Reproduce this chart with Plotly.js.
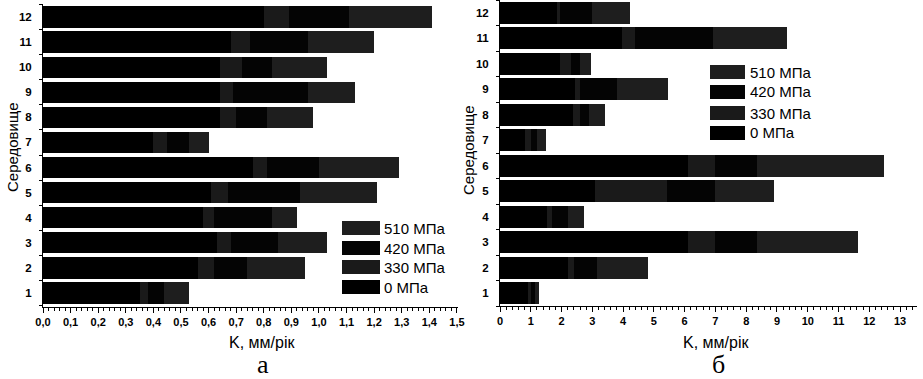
<!DOCTYPE html>
<html>
<head>
<meta charset="utf-8">
<script src="https://cdn.plot.ly/plotly-3.0.1.min.js"></script>
<style>html,body{margin:0;padding:0;background:#fff;}#chart{width:923px;height:379px;}</style>
</head>
<body>
<div id="chart"></div>
<script>
// ---- data ----
const media = [1,2,3,4,5,6,7,8,9,10,11,12];
const mediaLabels = ["1","2","3","4","5","6","7","8","9","10","11","12"];
const seriesNames = ["0 МПа","330 МПа","420 МПа","510 МПа"];
// panel а: K, mm/year (segment widths of stacked bars)
const a_0   = [0.35,0.56,0.63,0.58,0.61,0.76,0.40,0.64,0.64,0.64,0.68,0.80];
const a_330 = [0.03,0.06,0.05,0.04,0.06,0.05,0.05,0.06,0.05,0.08,0.07,0.09];
const a_420 = [0.06,0.12,0.17,0.21,0.26,0.19,0.08,0.11,0.27,0.11,0.21,0.22];
const a_510 = [0.09,0.21,0.18,0.09,0.28,0.29,0.07,0.17,0.17,0.20,0.24,0.30];
// panel б
const b_0   = [0.90,2.20,6.10,1.52,3.09,6.10,0.80,2.37,2.44,1.95,3.96,1.85];
const b_330 = [0.10,0.20,0.90,0.18,2.34,0.90,0.20,0.23,0.16,0.35,0.44,0.10];
const b_420 = [0.14,0.75,1.35,0.50,1.56,1.35,0.20,0.30,1.20,0.30,2.52,1.04];
const b_510 = [0.13,1.65,3.29,0.53,1.91,4.13,0.29,0.51,1.66,0.36,2.41,1.23];
const xTitle = "K, мм/рік";
const yTitle = "Середовище";
const panelLabels = ["а","б"];

// ---- styling ----
const colors = ["#000000","#1a1a1a","#040404","#1e1e1e"];
const W = 923, H = 379;
const px = x => x / W;
const py = y => 1 - y / H;
const FONT = "Liberation Sans, Arial, sans-serif";

const aSeries = [a_0,a_330,a_420,a_510];
const bSeries = [b_0,b_330,b_420,b_510];
const traces = [];
aSeries.forEach((vals,i) => traces.push({
  type:"bar", orientation:"h", x: vals, y: media, name: seriesNames[i],
  xaxis:"x", yaxis:"y", marker:{color:colors[i], line:{width:0}}, showlegend:false
}));
bSeries.forEach((vals,i) => traces.push({
  type:"bar", orientation:"h", x: vals, y: media, name: seriesNames[i],
  xaxis:"x2", yaxis:"y2", marker:{color:colors[i], line:{width:0}}, showlegend:false
}));

const tickFont = {family:FONT, size:11, color:"#000", weight:"bold"};
function xaxis(domain, range, dtick, minorD, fmt){
  return {domain, range, dtick, tick0:0, tickformat:fmt, showgrid:false, zeroline:false,
    showline:true, linecolor:"#000", linewidth:1, ticks:"outside", ticklen:5, tickwidth:1,
    tickcolor:"#000", tickfont:tickFont, fixedrange:true,
    minor:{dtick:minorD, tick0:0, ticks:"outside", ticklen:3, tickwidth:1, tickcolor:"#000", showgrid:false}};
}
function yaxis(domain, range){
  return {domain, range, tickvals:media, ticktext:mediaLabels, showgrid:false, zeroline:false,
    showline:true, linecolor:"#000", linewidth:1, ticks:"outside", ticklen:0, tickcolor:"#000",
    ticklabelstandoff:8, tickfont:{family:FONT, size:11.5, color:"#000", weight:"bold"}, fixedrange:true,
    minor:{tick0:0.5, dtick:1, ticks:"outside", ticklen:3, tickwidth:1, tickcolor:"#000", showgrid:false}};
}

const shapes = [], annotations = [];
function legend(x0, swW, textX, rows){
  // rows from top: 510, 420, 330, 0
  const order = [3,2,1,0];
  order.forEach((si,k) => {
    const yc = rows[k];
    shapes.push({type:"rect", xref:"paper", yref:"paper", x0:px(x0), x1:px(x0+swW),
      y0:py(yc+7), y1:py(yc-7), fillcolor:colors[si], line:{width:0}});
    annotations.push({xref:"paper", yref:"paper", x:px(textX), y:py(yc), xanchor:"left", yanchor:"middle",
      text:seriesNames[si], showarrow:false, font:{family:FONT, size:15, color:"#000"}});
  });
}
legend(342, 38, 382, [228,248,267,287]);
legend(710, 35, 748, [72,92,113,133]);

function label(x, y, text, size, opts){
  annotations.push(Object.assign({xref:"paper", yref:"paper", x:px(x), y:py(y), text, showarrow:false,
    xanchor:"center", yanchor:"middle", font:{family:FONT, size, color:"#000"}}, opts||{}));
}
label(262, 342, xTitle, 16);
label(716, 342, xTitle, 16);
label(12, 147, yTitle, 15, {textangle:-90});
label(468, 150, yTitle, 15, {textangle:-90});
label(263, 364, panelLabels[0], 26, {font:{family:"Liberation Serif, Times New Roman, serif", size:26, color:"#000"}});
label(718, 364, panelLabels[1], 26, {font:{family:"Liberation Serif, Times New Roman, serif", size:26, color:"#000"}});

const layout = {
  width:W, height:H, margin:{l:0,r:0,t:0,b:0}, paper_bgcolor:"#fff", plot_bgcolor:"#fff",
  barmode:"stack", bargap:0.15, separators:",.", showlegend:false,
  xaxis: xaxis([px(43), px(458)], [0, 1.504], 0.1, 0.02, ".1f"),
  yaxis: Object.assign(yaxis([1-307/H, 1-4/H], [0.44, 12.52]), {anchor:"x"}),
  xaxis2: Object.assign(xaxis([px(500), px(917)], [0, 13.55], 1, 0.2, "d"), {anchor:"y2"}),
  yaxis2: Object.assign(yaxis([1-306/H, 1], [0.5, 12.5]), {anchor:"x2"}),
  shapes, annotations
};
layout.xaxis.anchor = "y";
Plotly.newPlot("chart", traces, layout, {staticPlot:true, displayModeBar:false});
</script>
</body>
</html>
